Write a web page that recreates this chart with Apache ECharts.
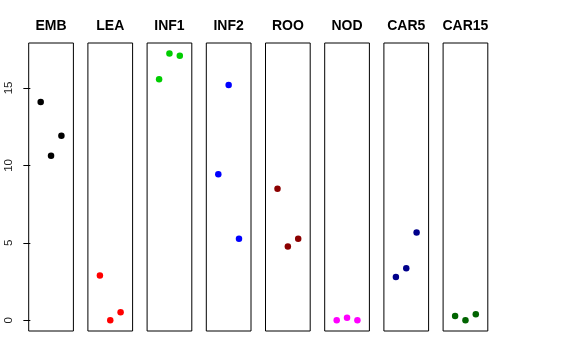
<!DOCTYPE html>
<html>
<head>
<meta charset="utf-8">
<script src="https://cdn.jsdelivr.net/npm/echarts@6/dist/echarts.min.js"></script>
<style>html,body{margin:0;padding:0;background:#fff}#c{width:576px;height:360px}</style>
</head>
<body>
<div id="c"></div>
<script>
const categories = ['EMB','LEA','INF1','INF2','ROO','NOD','CAR5','CAR15'];
const colors = ['#000000','#FF0000','#00CD00','#0000FF','#8B0000','#FF00FF','#00008B','#006400'];
const xPositions = [1, 2, 3];
const EMB   = [14.09, 10.62, 11.92];
const LEA   = [2.89, 0.0, 0.52];
const INF1  = [15.56, 17.22, 17.07];
const INF2  = [9.42, 15.19, 5.26];
const ROO   = [8.49, 4.76, 5.26];
const NOD   = [0.0, 0.17, 0.0];
const CAR5  = [2.80, 3.36, 5.67];
const CAR15 = [0.28, 0.0, 0.39];
const seriesValues = [EMB, LEA, INF1, INF2, ROO, NOD, CAR5, CAR15];
const yTicks = [0, 5, 10, 15];

(function () {
const chart = echarts.init(document.getElementById('c'), null, {renderer: 'canvas'});
const grids = [], xAxes = [], yAxes = [], series = [], titles = [];
const left0 = 28.7, step = 59.2, w = 44.7, gTop = 43, gH = 288;
categories.forEach((cat, i) => {
  const l = left0 + step * i;
  grids.push({left: l, top: gTop, width: w, height: gH, show: true, borderColor: '#000', borderWidth: 1, backgroundColor: 'transparent'});
  xAxes.push({type: 'value', gridIndex: i, min: -0.16, max: 4.16, show: false});
  yAxes.push({
    type: 'value', gridIndex: i, min: -0.69, max: 17.9,
    show: i === 0,
    splitLine: {show: false},
    axisLine: {show: false},
    axisTick: {show: i === 0, length: 7, customValues: yTicks, lineStyle: {color: '#000', width: 1}},
    axisLabel: {show: i === 0, customValues: yTicks, rotate: 90, margin: 13.5, color: '#222', fontSize: 11.5, fontFamily: 'Liberation Sans, Arial, sans-serif'}
  });
  series.push({
    type: 'scatter', xAxisIndex: i, yAxisIndex: i,
    data: xPositions.map((x, j) => [x, seriesValues[i][j]]),
    symbolSize: 6.5, itemStyle: {color: colors[i], opacity: 1}, silent: true
  });
  titles.push({
    text: cat, left: l + w / 2, top: 19, textAlign: 'center', padding: 0,
    textStyle: {fontSize: 14, fontWeight: 'bold', color: '#000', fontFamily: 'Liberation Sans, Arial, sans-serif'}
  });
});
chart.setOption({
  animation: false,
  title: titles,
  grid: grids, xAxis: xAxes, yAxis: yAxes, series: series
});
})();
</script>
</body>
</html>
